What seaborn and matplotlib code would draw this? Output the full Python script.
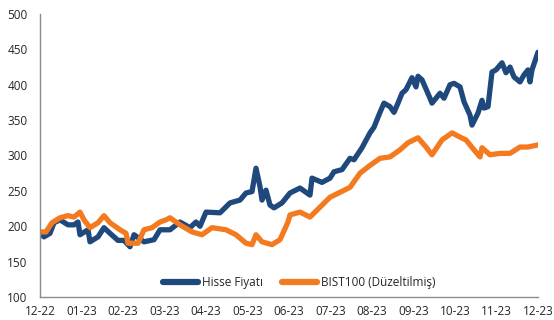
import matplotlib
matplotlib.use("Agg")
import matplotlib.pyplot as plt
import seaborn as sns
import pandas as pd

# Trading-day index and closing levels
hisse_gun = [0, 2, 5, 7, 10, 14, 17, 19, 20, 24, 25, 29, 32, 35, 39, 42, 45, 47, 52, 57,
             60, 65, 70, 75, 78, 80, 83, 90, 95, 100, 103, 106, 108, 110, 111, 113, 115,
             117, 121, 125, 130, 135, 136, 141, 145, 147, 151, 155, 157, 161, 165, 167,
             170, 172, 175, 177, 179, 181, 183, 186, 188, 189, 191, 195, 196, 200, 202,
             205, 207, 210, 212, 215, 216, 219, 221, 222, 224, 226, 228, 231, 233, 235,
             237, 240, 242, 244, 245, 246, 249]
hisse_fiyati = [190, 185, 190, 205, 209, 202, 202, 206, 188, 195, 178, 185, 198, 190, 180,
                180, 171, 188, 178, 181, 195, 195, 206, 198, 206, 200, 220, 219, 233, 237,
                247, 249, 282, 256, 237, 251, 230, 226, 233, 247, 254, 244, 268, 262, 268,
                277, 280, 296, 294, 311, 332, 340, 361, 374, 369, 361, 374, 388, 393, 410,
                397, 412, 407, 381, 374, 388, 381, 400, 402, 397, 376, 357, 343, 360, 378,
                367, 369, 418, 421, 431, 417, 425, 411, 404, 414, 421, 404, 421, 446]

bist_gun = [0, 3, 6, 10, 14, 17, 20, 22, 25, 29, 32, 35, 40, 43, 44, 49, 52, 56, 60, 63,
            65, 70, 76, 81, 86, 93, 98, 103, 106, 108, 111, 116, 120, 124, 125, 130, 135,
            140, 145, 150, 155, 160, 165, 170, 175, 180, 184, 189, 193, 196, 201, 206,
            210, 213, 217, 220, 221, 225, 230, 235, 240, 244, 249]
bist100 = [192, 192, 205, 212, 215, 213, 220, 209, 198, 205, 215, 205, 195, 190, 176, 176,
           195, 198, 206, 209, 212, 202, 192, 188, 198, 195, 188, 176, 174, 188, 178, 174,
           181, 206, 216, 220, 213, 227, 241, 248, 255, 275, 286, 296, 298, 308, 318, 325,
           312, 301, 322, 332, 326, 322, 308, 298, 311, 301, 303, 303, 312, 312, 315]

ay_etiketleri = ["12-22", "01-23", "02-23", "03-23", "04-23", "05-23", "06-23",
                 "07-23", "08-23", "09-23", "10-23", "11-23", "12-23"]

seri_adlari = ["Hisse Fiyatı", "BIST100 (Düzeltilmiş)"]
renkler = ["#1F497D", "#F47A20"]

df = pd.concat([
    pd.DataFrame({"gun": hisse_gun, "deger": hisse_fiyati, "seri": seri_adlari[0]}),
    pd.DataFrame({"gun": bist_gun, "deger": bist100, "seri": seri_adlari[1]}),
])

sns.set_theme(style="white")
plt.rcParams["font.family"] = ["Open Sans", "DejaVu Sans"]

fig = plt.figure(figsize=(5.54, 3.20), dpi=100)
ax = fig.add_axes([40 / 554, 1 - 297 / 320, 498 / 554, 283 / 320])

sns.lineplot(data=df, x="gun", y="deger", hue="seri", hue_order=seri_adlari,
             palette=renkler, linewidth=3.8, ax=ax, sort=True,
             solid_capstyle="round", solid_joinstyle="round")

son_gun = max(hisse_gun[-1], bist_gun[-1])
ax.set_xlim(0, son_gun)
ax.set_ylim(100, 500)
ax.set_yticks(range(100, 501, 50))
ax.set_xticks([i * son_gun / 12 for i in range(13)])
ax.set_xticklabels(ay_etiketleri)
ax.set_xlabel("")
ax.set_ylabel("")
ax.tick_params(axis="both", length=0, labelsize=8.5, colors="#262626")
ax.tick_params(axis="x", pad=6)
ax.tick_params(axis="y", pad=9)

for side in ["top", "right"]:
    ax.spines[side].set_visible(False)
for side in ["left", "bottom"]:
    ax.spines[side].set_color("#8C8C8C")
    ax.spines[side].set_linewidth(1.0)

leg = ax.legend(loc="lower center", bbox_to_anchor=(0.52, -0.01), ncol=2, frameon=False,
                fontsize=8.5, handlelength=3.0, columnspacing=1.6, handletextpad=0.3)
for line in leg.get_lines():
    line.set_linewidth(4.5)
    line.set_solid_capstyle("round")

fig.savefig("out.png", dpi=100)
